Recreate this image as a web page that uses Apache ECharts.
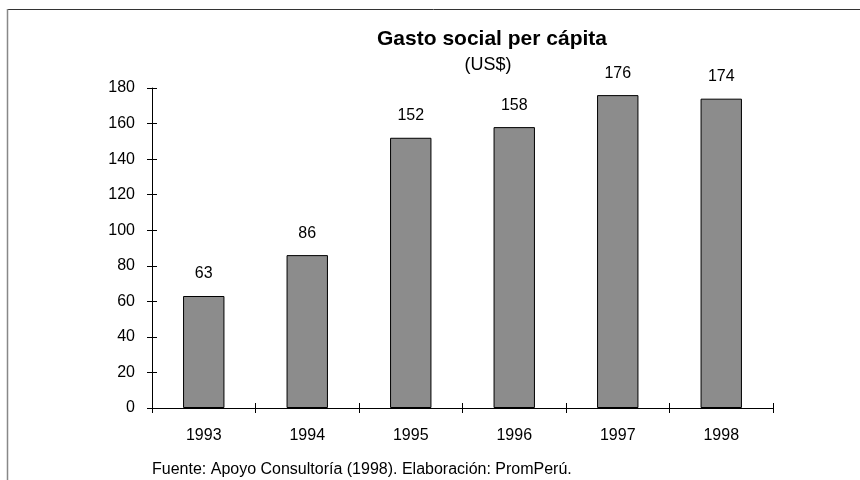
<!DOCTYPE html>
<html><head><meta charset="utf-8">
<script src="https://cdn.jsdelivr.net/npm/echarts@6/dist/echarts.min.js"></script>
<style>html,body{margin:0;padding:0;background:#fff}#c{width:860px;height:480px}</style>
</head><body><div id="c"></div>
<script>
const categories = ['1993','1994','1995','1996','1997','1998'];
const gasto = [63, 86, 152, 158, 176, 174];
const titleText = 'Gasto social per cápita';
const subtitleText = '(US$)';
const sourceText = 'Fuente: Apoyo Consultoría (1998). Elaboración: PromPerú.';

const chart = echarts.init(document.getElementById('c'), null, {renderer:'canvas'});
const font = 'Liberation Sans, Arial, sans-serif';
chart.setOption({
  animation:false,
  backgroundColor:'#fff',
  textStyle:{fontFamily:font},
  title:[
    {text:titleText, left:487, top:24, textAlign:'center',
     textStyle:{fontFamily:font,fontSize:21,fontWeight:'bold',color:'#000'}},
    {text:subtitleText, left:483, top:51, textAlign:'center',
     textStyle:{fontFamily:font,fontSize:18,fontWeight:'normal',color:'#000'}},
    {text:sourceText, left:147, top:457,
     textStyle:{fontFamily:font,fontSize:16,fontWeight:'normal',color:'#000'}}
  ],
  grid:{left:152,right:87,top:88,bottom:72,containLabel:false},
  xAxis:[{
    type:'category', data:categories,
    axisLine:{lineStyle:{color:'#000',width:1}},
    axisTick:{show:true,alignWithLabel:false,length:5,lineStyle:{color:'#000'}},
    axisLabel:{color:'#000',fontSize:16,fontFamily:font,margin:20},
    splitLine:{show:false}
  },{
    type:'category', data:categories, position:'bottom',
    axisLine:{show:false},
    axisTick:{show:true,inside:true,length:5,lineStyle:{color:'#000'}},
    axisLabel:{show:false}, splitLine:{show:false}
  }],
  yAxis:[{
    type:'value', min:0, max:180, interval:20,
    axisLine:{show:true,lineStyle:{color:'#000',width:1}},
    axisTick:{show:true,length:5,lineStyle:{color:'#000'}},
    axisLabel:{color:'#000',fontSize:16,fontFamily:font,margin:17},
    splitLine:{show:false}
  },{
    type:'value', min:0, max:180, interval:20, position:'left',
    axisLine:{show:false},
    axisTick:{show:true,inside:true,length:5,lineStyle:{color:'#000'}},
    axisLabel:{show:false}, splitLine:{show:false}
  }],
  series:[{
    type:'bar', data:gasto, barWidth:'40%',
    itemStyle:{color:'#8c8c8c',borderColor:'#000',borderWidth:1},
    label:{show:true,position:'top',distance:14,color:'#000',fontSize:16,fontFamily:font}
  }],
  graphic:[
    {type:'line',shape:{x1:7,y1:9.5,x2:860,y2:9.5},style:{stroke:'#333',lineWidth:1},silent:true},
    {type:'line',shape:{x1:7.5,y1:9,x2:7.5,y2:480},style:{stroke:'#888',lineWidth:1.5},silent:true}
  ]
});
</script></body></html>
